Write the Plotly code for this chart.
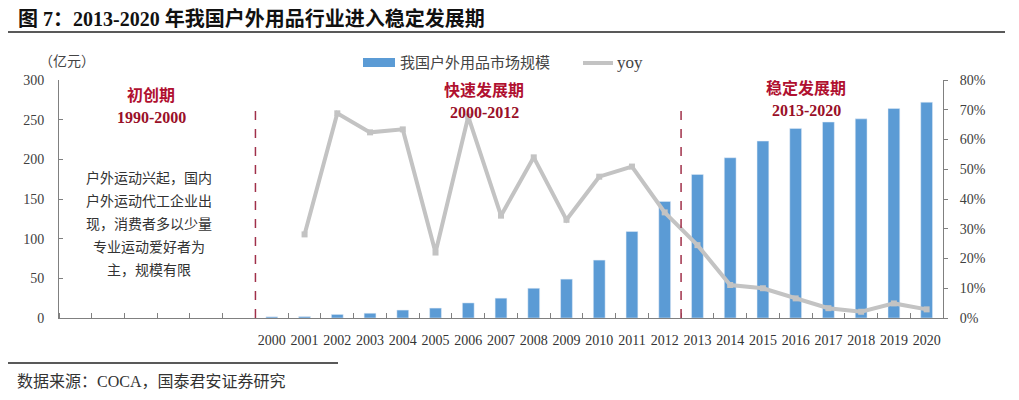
import plotly.graph_objects as go

years = list(range(2000, 2021))
year_labels = [str(y) for y in years]

# 市场规模（亿元）
market_size = [1.5, 1.8, 4.5, 6, 10, 12.5, 19, 25, 37.5, 49, 73, 109, 147,
               181, 202, 223, 239, 247, 251, 264, 272]

# yoy，2000 年无数据
yoy = [None, 0.281, 0.688, 0.624, 0.634, 0.22, 0.677, 0.344, 0.54, 0.33, 0.475,
       0.509, 0.355, 0.245, 0.111, 0.10, 0.066, 0.033, 0.021, 0.049, 0.029]

stage_titles = ["初创期", "快速发展期", "稳定发展期"]
stage_years = ["1990-2000", "2000-2012", "2013-2020"]
stage_note = ["户外运动兴起，国内", "户外运动代工企业出", "现，消费者多以少量",
              "专业运动爱好者为", "主，规模有限"]

serif = "Liberation Serif, Noto Sans CJK SC"
red = "#B01030"
# page body has an 8px margin, so the figure starts at (8, 8) on the page
W, H = 1003, 384
L, T = 59 - 8, 80 - 8
R = W - (943 - 8)
B = H - (318 - 8)
pw, ph = 884, 238


def px(xp):
    return (xp - 59) / pw


def py(yp):
    return (318 - yp) / ph


fig = go.Figure()

fig.add_trace(go.Bar(
    x=years, y=market_size, name="我国户外用品市场规模",
    marker_color="#5B9BD5", width=0.36, showlegend=False
))

fig.add_trace(go.Scatter(
    x=years, y=yoy, name="yoy", yaxis="y2", mode="lines+markers",
    line=dict(color="#C3C3C3", width=4),
    marker=dict(color="#C3C3C3", size=6, symbol="square"),
    showlegend=False
))

ann = []
ann.append(dict(text="图 7：2013-2020 年我国户外用品行业进入稳定发展期",
                x=px(16), y=py(18), xanchor="left", yanchor="middle",
                font=dict(family=serif, size=20, color="#111", weight="bold")))
ann.append(dict(text="（亿元）", x=px(67), y=py(61), xanchor="center", yanchor="middle",
                font=dict(family=serif, size=14, color="#444")))

# 阶段标注
title_pos = [(151, 95, 117), (484, 90, 112), (806, 88, 110)]
for (cx, y1, y2), t, yr in zip(title_pos, stage_titles, stage_years):
    ann.append(dict(text=t, x=px(cx), y=py(y1), xanchor="center", yanchor="middle",
                    font=dict(family=serif, size=16, color=red, weight="bold")))
    ann.append(dict(text=yr, x=px(cx), y=py(y2), xanchor="center", yanchor="middle",
                    font=dict(family=serif, size=16, color="#9A1028", weight="bold")))

for i, line in enumerate(stage_note):
    ann.append(dict(text=line, x=px(149), y=py(178 + i * 23), xanchor="center",
                    yanchor="middle", font=dict(family=serif, size=14, color="#333")))

# 图例
ann.append(dict(text="我国户外用品市场规模", x=px(398), y=py(63), xanchor="left",
                yanchor="middle", font=dict(family=serif, size=15, color="#444")))
ann.append(dict(text="yoy", x=px(615), y=py(62), xanchor="left", yanchor="middle",
                font=dict(family=serif, size=17, color="#444")))

ann.append(dict(text="数据来源：COCA，国泰君安证券研究", x=px(15), y=py(381),
                xanchor="left", yanchor="middle",
                font=dict(family=serif, size=16, color="#333")))

for a in ann:
    a.update(xref="paper", yref="paper", showarrow=False)

shapes = [
    dict(type="line", xref="paper", yref="paper", x0=px(8), x1=px(1005),
         y0=py(32), y1=py(32), line=dict(color="#222", width=1.5)),
    dict(type="line", xref="paper", yref="paper", x0=px(8), x1=px(338),
         y0=py(363), y1=py(363), line=dict(color="#222", width=1.5)),
    dict(type="rect", xref="paper", yref="paper", x0=px(363), x1=px(395),
         y0=py(67), y1=py(58), fillcolor="#5B9BD5", line=dict(width=0)),
    dict(type="line", xref="paper", yref="paper", x0=px(583), x1=px(613),
         y0=py(63), y1=py(63), line=dict(color="#C3C3C3", width=4)),
]
for xb in [1999.5, 2012.5]:
    shapes.append(dict(type="line", xref="x", yref="y", x0=xb, x1=xb, y0=0, y1=266,
                       line=dict(color="#A0304A", width=1.5, dash="dash")))

fig.update_layout(
    width=W, height=H,
    margin=dict(l=L, r=R, t=T, b=B, autoexpand=False),
    plot_bgcolor="white", paper_bgcolor="white",
    font=dict(family=serif, size=14, color="#404040"),
    annotations=ann, shapes=shapes,
    bargap=0.6,
    xaxis=dict(
        range=[1993.5, 2020.5], tickvals=years, ticktext=year_labels,
        showgrid=False, showline=True, linecolor="#808080", linewidth=1,
        ticks="", tickfont=dict(size=14, color="#333"), ticklabelstandoff=9,
        minor=dict(tick0=1993.5, dtick=1, ticks="inside", ticklen=5,
                   tickcolor="#808080", showgrid=False),
        fixedrange=True
    ),
    yaxis=dict(
        range=[0, 300], dtick=50, showgrid=False, zeroline=False,
        showline=True, linecolor="#808080", linewidth=1,
        ticks="inside", ticklen=4, tickcolor="#808080",
        tickfont=dict(size=14, color="#404040"), ticklabelstandoff=11
    ),
    yaxis2=dict(
        range=[0, 0.8], dtick=0.1, tickformat=".0%", overlaying="y", side="right",
        showgrid=False, zeroline=False, showline=True, linecolor="#808080",
        linewidth=1, ticks="outside", ticklen=4, tickcolor="#808080",
        tickfont=dict(size=14, color="#404040"), ticklabelstandoff=9
    ),
)

fig.write_html("out.html")
